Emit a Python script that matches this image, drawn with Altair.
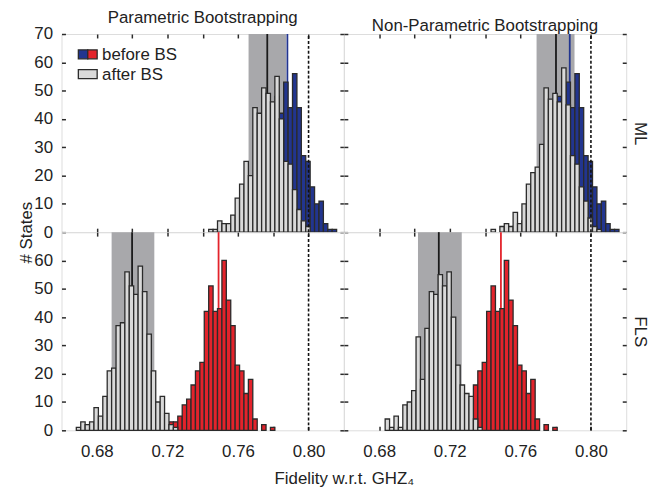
import altair as alt
import pandas as pd

FONT = "Liberation Sans"
OUTLINE = "#2b2b2b"
BLUE = "#22358f"
RED = "#e3232b"
GRAY_BAR = "#d9d9d9"
SHADE = "#a8a8ab"
TEXT = "#222222"

# ---------------- data ----------------
GRID_START = 0.6684   # left edge of histogram bin 0
BIN_WIDTH = 0.0025

# "before BS" histograms (same original states in both columns)
ml_before_start = 33
ml_before = [1, 1, 2, 2, 4, 6, 8, 11, 14, 18, 24, 32, 48, 42, 53, 44, 56, 44, 27, 25, 16, 10, 11, 3, 1, 1]
fls_before_start = 21
fls_before = [3, 3, 5, 9, 11, 16, 21, 24, 42, 51, 42, 43, 60, 46, 37, 23, 21, 13, 18, 4, 0, 2, 0, 1]

# "after BS" histograms
ml_param_start = 30
ml_param = [1, 1, 4, 3, 3, 6, 12, 17, 25, 20, 44, 42, 51, 49, 46, 55, 40, 25, 24, 15, 8, 4, 2]
ml_nonparam_start = 30
ml_nonparam = [1, 0, 2, 3, 2, 7, 3, 10, 17, 21, 23, 31, 51, 47, 49, 46, 58, 45, 27, 24, 16, 11, 5, 2, 1]
fls_param_start = 0
fls_param = [1, 3, 2, 3, 8, 5, 12, 21, 22, 37, 38, 56, 51, 48, 58, 49, 34, 21, 10, 12, 6, 2, 1]
fls_nonparam_start = 6
fls_nonparam = [4, 1, 5, 1, 9, 10, 14, 33, 18, 36, 49, 48, 55, 51, 56, 40, 23, 16, 13, 12, 4, 1]

# single values
estimate = {"ML": 0.788, "FLS": 0.749}              # coloured line
boot_mean = [[0.7766, 0.7802], [0.700, 0.7138]]      # black line [row][col]
band_lo = [[0.766, 0.7692], [0.6884, 0.702]]         # grey band
band_hi = [[0.7873, 0.7907], [0.7126, 0.7268]]
true_fidelity = 0.80                                  # dashed line

column_titles = ["Parametric Bootstrapping", "Non-Parametric Bootstrapping"]
row_titles = ["ML", "FLS"]
x_ticks = [0.68, 0.70, 0.72, 0.74, 0.76, 0.78, 0.80]
y_ticks_top = [0, 10, 20, 30, 40, 50, 60, 70]
y_ticks_bottom = [0, 10, 20, 30, 40, 50, 60]
x_domain = [0.66, 0.82]
y_domain = [0, 70]
legend_labels = ["before BS", "after BS"]

W, H = 285, 200


def hist_df(start, counts):
    rows = []
    for i, c in enumerate(counts):
        if c > 0:
            x0 = GRID_START + (start + i) * BIN_WIDTH
            rows.append({"x0": x0, "x1": x0 + BIN_WIDTH, "count": c})
    return pd.DataFrame(rows)


before = {"ML": hist_df(ml_before_start, ml_before), "FLS": hist_df(fls_before_start, fls_before)}
after = [[hist_df(ml_param_start, ml_param), hist_df(ml_nonparam_start, ml_nonparam)],
         [hist_df(fls_param_start, fls_param), hist_df(fls_nonparam_start, fls_nonparam)]]

xs = alt.Scale(domain=x_domain, nice=False, zero=False)
ys = alt.Scale(domain=y_domain, nice=False, zero=False)

axis_common = dict(grid=False, domain=False, tickSize=4, offset=-4, tickColor=OUTLINE,
                   tickWidth=1.5, labelFontSize=17, labelColor=TEXT, labelFont=FONT,
                   titleFont=FONT, titleFontSize=17, titleFontWeight="normal", titleColor=TEXT)

LABEL_EXPR = "(round(datum.value*100) % 4 == 0) ? format(datum.value, '.2f') : ''"


def panel(r, c):
    row = row_titles[r]
    is_left = c == 0
    is_bottom = r == 1
    colour = BLUE if row == "ML" else RED

    # axes
    bkw = dict(axis_common, orient="bottom", values=x_ticks, labels=is_bottom,
               labelExpr=LABEL_EXPR, labelPadding=13)
    if is_bottom and is_left:
        bkw.update(title="Fidelity w.r.t. GHZ\u2084", titleX=W, titlePadding=12)
    else:
        bkw.update(title=None)
    bottom_axis = alt.Axis(**bkw)
    top_axis = alt.Axis(**dict(axis_common, orient="top", values=x_ticks, labels=False, title=None))

    lkw = dict(axis_common, orient="left", values=(y_ticks_bottom if is_bottom else y_ticks_top),
               labels=is_left, labelPadding=9)
    if is_bottom and is_left:
        lkw.update(title="# States", titleY=0, titlePadding=-2)
    else:
        lkw.update(title=None)
    left_axis = alt.Axis(**lkw)

    rkw = dict(axis_common, orient="right", values=(y_ticks_bottom if is_bottom else y_ticks_top),
               labels=False)
    if not is_left:
        rkw.update(title=row, titleAngle=90, titlePadding=4)
    else:
        rkw.update(title=None)
    right_axis = alt.Axis(**rkw)

    full = pd.DataFrame({"y0": [y_domain[0]], "y1": [y_domain[1]]})

    band = alt.Chart(full.assign(lo=band_lo[r][c], hi=band_hi[r][c])).mark_rect(
        color=SHADE).encode(
        x=alt.X("lo:Q", scale=xs, axis=None), x2="hi:Q",
        y=alt.Y("y0:Q", scale=ys, axis=None), y2="y1:Q")

    mean_line = alt.Chart(full.assign(v=boot_mean[r][c])).mark_rule(
        color="#1a1a1a", strokeWidth=1.8).encode(
        x=alt.X("v:Q", scale=xs, axis=None),
        y=alt.Y("y0:Q", scale=ys, axis=None), y2="y1:Q")

    est_line = alt.Chart(full.assign(v=estimate[row])).mark_rule(
        color=colour, strokeWidth=1.8).encode(
        x=alt.X("v:Q", scale=xs, axis=None),
        y=alt.Y("y0:Q", scale=ys, axis=None), y2="y1:Q")

    before_bars = alt.Chart(before[row]).mark_rect(
        fill=colour, stroke=OUTLINE, strokeWidth=1.3).encode(
        x=alt.X("x0:Q", scale=xs, axis=None), x2="x1:Q",
        y=alt.Y("count:Q", scale=ys, axis=None), y2=alt.datum(0))

    after_bars = alt.Chart(after[r][c]).mark_rect(
        fill=GRAY_BAR, stroke=OUTLINE, strokeWidth=1.3).encode(
        x=alt.X("x0:Q", scale=xs, axis=bottom_axis), x2="x1:Q",
        y=alt.Y("count:Q", scale=ys, axis=left_axis), y2=alt.datum(0))

    true_line = alt.Chart(full.assign(v=true_fidelity)).mark_rule(
        color="#111111", strokeWidth=1.6, strokeDash=[3, 2]).encode(
        x=alt.X("v:Q", scale=xs, axis=top_axis),
        y=alt.Y("y0:Q", scale=ys, axis=right_axis), y2="y1:Q")

    layers = [band, mean_line, est_line, before_bars, after_bars, true_line]

    if r == 0 and c == 0:
        leg = pd.DataFrame({"label": legend_labels})
        sw_blue = alt.Chart(leg.head(1)).mark_rect(fill=BLUE, stroke=OUTLINE, strokeWidth=1.3).encode(
            x=alt.value(17), x2=alt.value(26.5), y=alt.value(16), y2=alt.value(25))
        sw_red = alt.Chart(leg.head(1)).mark_rect(fill=RED, stroke=OUTLINE, strokeWidth=1.3).encode(
            x=alt.value(26.5), x2=alt.value(36), y=alt.value(16), y2=alt.value(25))
        sw_gray = alt.Chart(leg.tail(1)).mark_rect(fill=GRAY_BAR, stroke=OUTLINE, strokeWidth=1.3).encode(
            x=alt.value(17), x2=alt.value(36), y=alt.value(36), y2=alt.value(45))
        t1 = alt.Chart(leg.head(1)).mark_text(align="left", baseline="alphabetic", fontSize=17,
                                              font=FONT, color=TEXT).encode(
            x=alt.value(41), y=alt.value(26), text="label:N")
        t2 = alt.Chart(leg.tail(1)).mark_text(align="left", baseline="alphabetic", fontSize=17,
                                              font=FONT, color=TEXT).encode(
            x=alt.value(41), y=alt.value(46), text="label:N")
        layers += [sw_blue, sw_red, sw_gray, t1, t2]

    props = dict(width=W, height=H)
    if r == 0:
        props["title"] = alt.Title(column_titles[c], fontSize=17, fontWeight="normal", font=FONT,
                                   color=TEXT, offset=-2, frame="group")
    return alt.layer(*layers).resolve_axis(x="independent", y="independent").properties(**props)


chart = alt.concat(panel(0, 0), panel(0, 1), panel(1, 0), panel(1, 1),
                   columns=2, spacing=0, bounds="flush").properties(
    padding={"left": 9, "top": -2, "right": 0, "bottom": 0}
).configure_view(stroke=OUTLINE, strokeWidth=2).configure(font=FONT)

chart.save("out.html", embed_options={"renderer": "svg", "actions": False})
